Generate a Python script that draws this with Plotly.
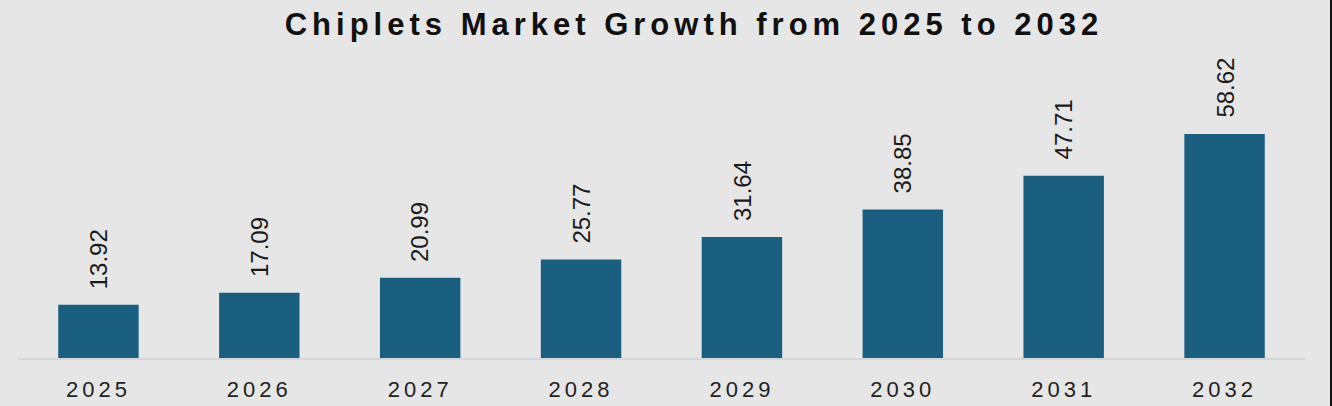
import plotly.graph_objects as go

years = ["2025", "2026", "2027", "2028", "2029", "2030", "2031", "2032"]
market = [13.92, 17.09, 20.99, 25.77, 31.64, 38.85, 47.71, 58.62]

bar_color = "#1a5f80"
bg = "#e6e6e6"

fig = go.Figure()
fig.add_trace(go.Bar(
    x=years,
    y=market,
    marker=dict(color=bar_color, line=dict(width=0)),
    hoverinfo="x+y",
))

# value labels, rotated, above each bar (category index keeps numeric-looking names safe)
for i, v in enumerate(market):
    fig.add_annotation(
        x=i, y=v, text=f"{v:.2f}",
        textangle=-90, showarrow=False,
        xanchor="center", yanchor="bottom", yshift=14,
        font=dict(family="Liberation Sans, Arial", size=24, color="#1a1a1a"),
    )

tick_text = [f'<span style="letter-spacing:4px">{y}</span>' for y in years]

fig.update_layout(
    width=1332,
    height=406,
    paper_bgcolor=bg,
    plot_bgcolor=bg,
    margin=dict(l=18, r=27, t=60, b=48),
    bargap=0.5,
    showlegend=False,
    title=dict(
        text='<span style="letter-spacing:5px">Chiplets Market Growth from 2025 to 2032</span>',
        x=0.521, xanchor="center",
        y=1 - 24 / 406, yanchor="middle", yref="container",
        font=dict(family="Liberation Sans, Arial", size=31, color="#111111", weight="bold"),
    ),
    xaxis=dict(
        type="category",
        range=[-0.5, len(years) - 0.5],
        automargin=False,
        showline=True, linecolor="#d4d7d9", linewidth=2,
        showgrid=False, ticks="",
        tickmode="array", tickvals=list(range(len(years))), ticktext=tick_text,
        ticklabelstandoff=11,
        tickfont=dict(family="Liberation Sans, Arial", size=22, color="#222222"),
    ),
    yaxis=dict(
        range=[0, 78.0],
        automargin=False,
        visible=False, showgrid=False, zeroline=False,
    ),
)

# thin dark strip at the right edge of the picture
fig.add_shape(
    type="rect", xref="paper", yref="paper",
    x0=(1330 - 18) / 1287, x1=(1340 - 18) / 1287,
    y0=-0.5, y1=1.5,
    fillcolor="#111111", line=dict(width=0), layer="above",
)

fig.write_html("out.html", config={"displayModeBar": False},
               post_script="document.body.style.margin='0';")
